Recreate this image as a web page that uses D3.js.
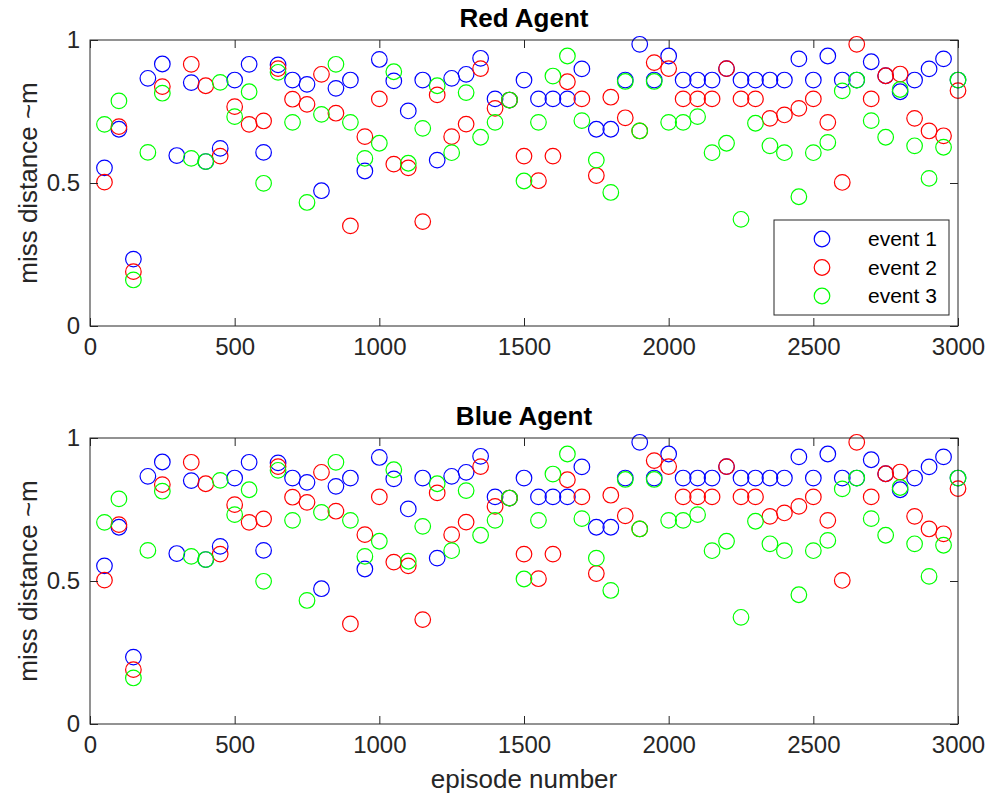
<!DOCTYPE html>
<html>
<head>
<meta charset="utf-8">
<script src="https://cdn.jsdelivr.net/npm/d3@7"></script>
<style>
  body { margin: 0; background: #fff; }
  text { font-family: "Liberation Sans", Arial, sans-serif; fill: #262626; }
  .tick text { font-size: 24px; }
  .title { font-size: 26px; font-weight: bold; fill: #000; }
  .lab { font-size: 26px; }
  .leg_text { font-size: 21px; fill: #000; }
</style>
</head>
<body>
<div class="viz"></div>
<script>
// episode numbers (x)
const episodes = [50, 100, 150, 200, 250, 300, 350, 400, 450, 500,
  550, 600, 650, 700, 750, 800, 850, 900, 950, 1000,
  1050, 1100, 1150, 1200, 1250, 1300, 1350, 1400, 1450, 1500,
  1550, 1600, 1650, 1700, 1750, 1800, 1850, 1900, 1950, 2000,
  2050, 2100, 2150, 2200, 2250, 2300, 2350, 2400, 2450, 2500,
  2550, 2600, 2650, 2700, 2750, 2800, 2850, 2900, 2950, 3000];

// miss distance per event (null = no point drawn)
const event1 = [0.553, 0.688, 0.234, 0.866, 0.916, 0.596, 0.851, 0.575, 0.621, 0.86,
  0.915, 0.607, 0.913, 0.86, 0.845, 0.473, 0.831, 0.86, 0.542, 0.932,
  0.857, 0.752, 0.86, 0.58, 0.866, 0.88, 0.936, 0.794, 0.79, 0.86,
  0.794, 0.794, 0.794, 0.899, 0.688, 0.688, 0.86, 0.985, 0.86, 0.944,
  0.86, 0.86, 0.86, 0.90, 0.86, 0.86, 0.86, 0.86, 0.934, 0.86,
  0.944, 0.86, 0.86, 0.924, 0.875, 0.819, 0.86, 0.899, 0.934, 0.86];

const event2 = [0.503, 0.697, 0.19, null, 0.837, null, 0.915, 0.84, 0.594, 0.767,
  0.705, 0.717, 0.90, 0.793, 0.775, 0.88, 0.744, 0.35, 0.662, 0.794,
  0.566, 0.553, 0.365, 0.808, 0.662, 0.706, 0.90, 0.761, 0.79, 0.594,
  0.508, 0.594, 0.854, 0.794, 0.526, 0.80, 0.728, 0.682, 0.921, 0.90,
  0.794, 0.794, 0.794, 0.90, 0.794, 0.794, 0.726, 0.738, 0.761, 0.794,
  0.712, 0.502, 0.985, 0.794, 0.875, 0.881, 0.726, 0.682, 0.665, 0.823];

const event3 = [0.705, 0.787, 0.161, 0.607, 0.814, null, 0.586, 0.575, 0.852, 0.732,
  0.819, 0.499, 0.887, 0.712, 0.432, 0.740, 0.915, 0.712, 0.586, 0.639,
  0.889, 0.569, 0.691, 0.84, 0.606, 0.816, 0.66, 0.712, 0.79, 0.507,
  0.712, 0.874, 0.944, 0.718, 0.58, 0.467, 0.855, 0.682, 0.855, 0.712,
  0.712, 0.732, 0.606, 0.639, 0.373, 0.709, 0.63, 0.606, 0.452, 0.606,
  0.642, 0.822, 0.86, 0.718, 0.66, 0.827, 0.63, 0.516, 0.625, 0.86];

const seriesNames = ["event 1", "event 2", "event 3"];
const seriesColors = ["#0000ff", "#ff0000", "#00ff00"];
const xTicks = [0, 500, 1000, 1500, 2000, 2500, 3000];
const yTicks = [0, 0.5, 1];
const panelTitles = ["Red Agent", "Blue Agent"];

const W = 992, H = 799;
const left = 90, right = 958;
const plotH = 286;
const panelTops = [40, 438];
const tickLen = 8;

const svg = d3.select('.viz')
    .append('svg')
    .attr('width', W)
    .attr('height', H);

svg.append('rect').attr('width', W).attr('height', H).attr('fill', '#fff');

const x = d3.scaleLinear()
    .domain([0, 3000])
    .range([left, right]);

const allSeries = [event1, event2, event3];

function drawPanel(top, title, showLegend, showXLabel) {
    const y = d3.scaleLinear()
        .domain([0, 1])
        .range([top + plotH, top]);

    const g = svg.append('g');

    // points: blue first, green last (on top)
    allSeries.forEach(function(vals, k) {
        const pts = episodes.map(function(e, i) { return { x: e, y: vals[i] }; })
            .filter(function(d) { return d.y !== null; });
        g.append('g')
            .selectAll('circle')
            .data(pts)
            .enter()
            .append('circle')
            .attr('cx', function(d) { return x(d.x); })
            .attr('cy', function(d) { return y(d.y); })
            .attr('r', 7.8)
            .attr('fill', 'none')
            .attr('stroke', seriesColors[k])
            .attr('stroke-width', 1.2);
    });

    // axes with inward ticks, MATLAB style box
    const xb = g.append('g')
        .attr('transform', 'translate(0,' + (top + plotH) + ')')
        .call(d3.axisBottom(x).tickValues(xTicks).tickSizeInner(-tickLen).tickSizeOuter(0).tickPadding(18)
            .tickFormat(d3.format('d')));
    const xt = g.append('g')
        .attr('transform', 'translate(0,' + top + ')')
        .call(d3.axisTop(x).tickValues(xTicks).tickSizeInner(-tickLen).tickSizeOuter(0).tickFormat(''));
    const yl = g.append('g')
        .attr('transform', 'translate(' + left + ',0)')
        .call(d3.axisLeft(y).tickValues(yTicks).tickSizeInner(-tickLen).tickSizeOuter(0).tickPadding(10)
            .tickFormat(function(d) { return String(d); }));
    const yr = g.append('g')
        .attr('transform', 'translate(' + right + ',0)')
        .call(d3.axisRight(y).tickValues(yTicks).tickSizeInner(-tickLen).tickSizeOuter(0).tickFormat(''));

    [xb, xt, yl, yr].forEach(function(a) {
        a.select('.domain').remove();
        a.selectAll('line').attr('stroke', '#262626');
        a.selectAll('text').attr('fill', '#262626');
    });
    xb.selectAll('text').attr('dy', '0.45em');

    g.append('rect')
        .attr('x', left)
        .attr('y', top)
        .attr('width', right - left)
        .attr('height', plotH)
        .attr('fill', 'none')
        .attr('stroke', '#262626')
        .attr('stroke-width', 1);

    g.append('text')
        .attr('class', 'title')
        .attr('x', (left + right) / 2)
        .attr('y', top - 13)
        .attr('text-anchor', 'middle')
        .text(title);

    g.append('text')
        .attr('class', 'lab')
        .attr('transform', 'translate(37,' + (top + plotH / 2) + ') rotate(-90)')
        .attr('text-anchor', 'middle')
        .text('miss distance ~m');

    if (showXLabel) {
        g.append('text')
            .attr('class', 'lab')
            .attr('x', (left + right) / 2)
            .attr('y', top + plotH + 64)
            .attr('text-anchor', 'middle')
            .text('episode number');
    }

    if (showLegend) {
        const lg = g.append('g');
        lg.append('rect')
            .attr('x', 774)
            .attr('y', top + 180)
            .attr('width', 175)
            .attr('height', 95)
            .attr('fill', '#fff')
            .attr('stroke', '#262626')
            .attr('stroke-width', 1);
        seriesNames.forEach(function(name, k) {
            const cy = top + 199 + k * 28.5;
            lg.append('circle')
                .attr('cx', 822)
                .attr('cy', cy)
                .attr('r', 7.8)
                .attr('fill', 'none')
                .attr('stroke', seriesColors[k])
                .attr('stroke-width', 1.2);
            lg.append('text')
                .attr('class', 'leg_text')
                .attr('x', 868)
                .attr('y', cy)
                .attr('dy', '0.35em')
                .text(name);
        });
    }
}

drawPanel(panelTops[0], panelTitles[0], true, false);
drawPanel(panelTops[1], panelTitles[1], false, true);
</script>
</body>
</html>
